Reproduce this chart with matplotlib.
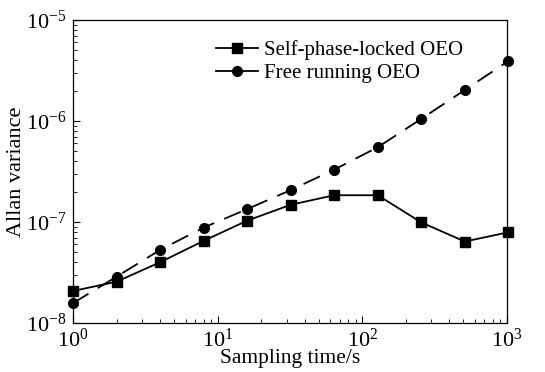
import matplotlib.pyplot as plt
from matplotlib.lines import Line2D

plt.rcParams['font.family'] = ['Liberation Serif', 'DejaVu Serif']
plt.rcParams['mathtext.fontset'] = 'stix'

tau = [1, 2, 4, 8, 16, 32, 64, 128, 256, 512, 1024]
locked = [2.07e-8, 2.56e-8, 3.99e-8, 6.5e-8, 1.03e-7, 1.48e-7, 1.84e-7, 1.84e-7, 9.9e-8, 6.4e-8, 7.9e-8]
free = [1.57e-8, 2.87e-8, 5.28e-8, 8.8e-8, 1.34e-7, 2.07e-7, 3.3e-7, 5.5e-7, 1.05e-6, 2.03e-6, 3.93e-6]

fig = plt.figure(figsize=(5.45, 3.72), dpi=100)
ax = fig.add_axes([0.134, 0.132, 0.796, 0.814])

ax.plot(tau, locked, color="black", lw=1.3, marker="s", ms=7, clip_on=False, zorder=3)
ax.plot(tau, free, color="black", lw=1.3, ls=(0, (10, 6)), marker="o", ms=7, clip_on=False, zorder=3)

ax.set_xscale("log")
ax.set_yscale("log")
ax.set_xlim(1, 1000)
ax.set_ylim(1e-8, 1e-5)
ax.set_xlabel("Sampling time/s", fontsize=15.5, labelpad=-2)
ax.set_ylabel("Allan variance", fontsize=16, labelpad=0)
ax.tick_params(which="both", direction="in", labelsize=16, top=False, right=False)
ax.tick_params(axis="x", pad=4)
ax.tick_params(axis="y", pad=5)
ax.tick_params(which="major", length=5)
ax.tick_params(which="minor", length=3)
for s in ax.spines.values():
    s.set_linewidth(0.9)

handles = [
    Line2D([], [], color="black", lw=1.3, marker="s", ms=7),
    Line2D([], [], color="black", lw=1.3, marker="o", ms=7),
]
ax.legend(handles, ["Self-phase-locked OEO", "Free running OEO"], frameon=False,
          fontsize=15, loc="upper left", bbox_to_anchor=(0.31, 0.96),
          handlelength=2.0, handletextpad=0.3, labelspacing=0.15, borderaxespad=0)

fig.savefig("out.png", dpi=100)
